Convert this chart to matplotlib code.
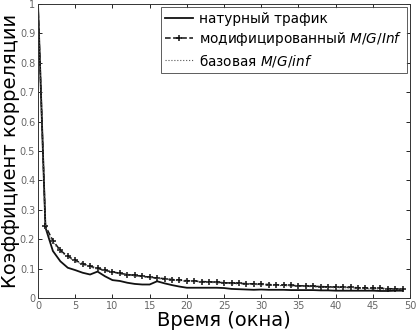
import matplotlib
matplotlib.use("Agg")
import matplotlib.pyplot as plt
import numpy as np

lags = list(range(0, 50))
natural = [1.0, 0.24, 0.16, 0.125, 0.103, 0.095, 0.086, 0.080, 0.090, 0.074,
           0.061, 0.058, 0.052, 0.048, 0.046, 0.046, 0.057, 0.050, 0.044, 0.039,
           0.035, 0.035, 0.035, 0.035, 0.035, 0.034, 0.031, 0.030, 0.029, 0.028,
           0.029, 0.028, 0.028, 0.028, 0.027, 0.027, 0.027, 0.027, 0.026, 0.026,
           0.025, 0.025, 0.025, 0.025, 0.025, 0.025, 0.024, 0.024, 0.025, 0.025]
modified = [1.0, 0.245, 0.195, 0.162, 0.142, 0.128, 0.117, 0.108, 0.101, 0.094,
            0.089, 0.084, 0.080, 0.077, 0.074, 0.071, 0.068, 0.066, 0.063, 0.061,
            0.059, 0.058, 0.056, 0.055, 0.054, 0.052, 0.051, 0.050, 0.049, 0.048,
            0.047, 0.046, 0.045, 0.044, 0.043, 0.042, 0.041, 0.040, 0.039, 0.038,
            0.037, 0.037, 0.036, 0.035, 0.034, 0.033, 0.033, 0.032, 0.031, 0.030]
base = [1.0, 0.240, 0.190, 0.158, 0.139, 0.125, 0.114, 0.105, 0.098, 0.092,
        0.087, 0.082, 0.078, 0.075, 0.072, 0.069, 0.066, 0.064, 0.061, 0.059,
        0.057, 0.056, 0.054, 0.053, 0.052, 0.050, 0.049, 0.048, 0.047, 0.046,
        0.045, 0.044, 0.043, 0.042, 0.041, 0.040, 0.039, 0.038, 0.037, 0.036,
        0.035, 0.035, 0.034, 0.033, 0.032, 0.031, 0.031, 0.030, 0.029, 0.028]
xticks = list(range(0, 51, 5))
yticks = [0, 0.1, 0.2, 0.3, 0.4, 0.5, 0.6, 0.7, 0.8, 0.9, 1]
ytick_labels = ["0", "0.1", "0.2", "0.3", "0.4", "0.5", "0.6", "0.7", "0.8", "0.9", "1"]
labels = ["натурный трафик", "модифицированный $\\mathit{M/G/Inf}$", "базовая $\\mathit{M/G/inf}$"]

fig = plt.figure(figsize=(4.2, 3.36), dpi=100)
ax = fig.add_axes([0.0905, 0.113, 0.886, 0.875])
ax.plot(lags, natural, color="#111111", lw=1.3, label=labels[0])
ax.plot(lags, modified, color="#111111", lw=1.1, ls="--", marker="+", ms=5, mew=1.1, label=labels[1])
ax.plot(lags, base, color="#555555", lw=0.8, ls=":", label=labels[2])
ax.set_xlim(0, 50)
ax.set_ylim(0, 1)
ax.set_xticks(xticks)
ax.set_yticks(yticks)
ax.set_yticklabels(ytick_labels)
ax.tick_params(direction="in", top=True, right=True, labelsize=7, labelcolor="#666666", length=3, width=0.6, pad=2)
for s in ax.spines.values():
    s.set_linewidth(0.7)
    s.set_color("#333333")
ax.set_xlabel("Время (окна)", fontsize=14, labelpad=0)
ax.set_ylabel("Коэффициент корреляции", fontsize=14, labelpad=0)
leg = ax.legend(loc="upper right", fontsize=9.8, frameon=True, fancybox=False, edgecolor="#333333",
                borderpad=0.3, labelspacing=0.3, handlelength=2.0, handletextpad=0.5, borderaxespad=0.25)
leg.get_frame().set_linewidth(0.7)
fig.savefig("out.png", dpi=100)
